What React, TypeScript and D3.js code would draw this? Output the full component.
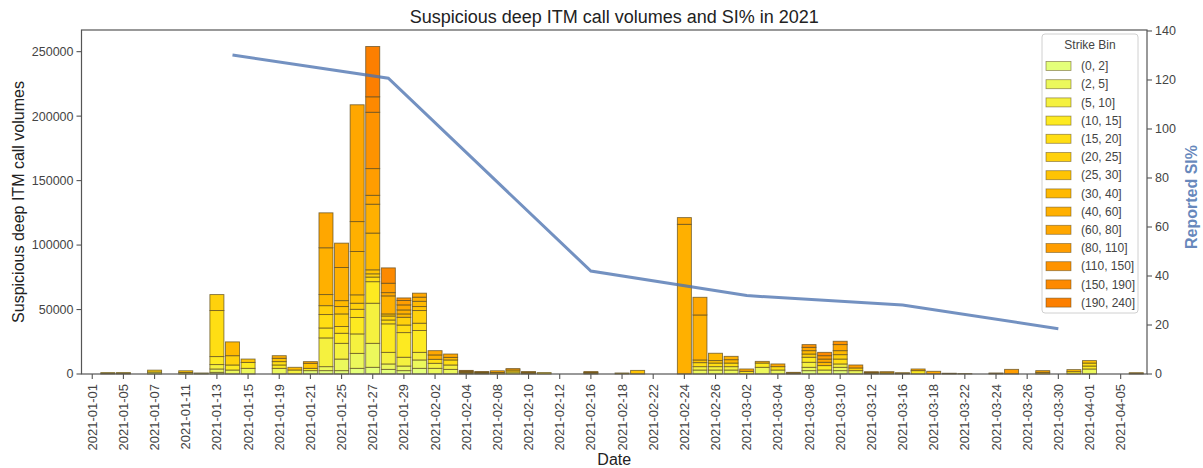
import * as d3 from "d3";

const dates = [
  "2021-01-01", "2021-01-04", "2021-01-05", "2021-01-06", "2021-01-07", "2021-01-08",
  "2021-01-11", "2021-01-12", "2021-01-13", "2021-01-14", "2021-01-15", "2021-01-18",
  "2021-01-19", "2021-01-20", "2021-01-21", "2021-01-22", "2021-01-25", "2021-01-26",
  "2021-01-27", "2021-01-28", "2021-01-29", "2021-02-01", "2021-02-02", "2021-02-03",
  "2021-02-04", "2021-02-05", "2021-02-08", "2021-02-09", "2021-02-10", "2021-02-11",
  "2021-02-12", "2021-02-15", "2021-02-16", "2021-02-17", "2021-02-18", "2021-02-19",
  "2021-02-22", "2021-02-23", "2021-02-24", "2021-02-25", "2021-02-26", "2021-03-01",
  "2021-03-02", "2021-03-03", "2021-03-04", "2021-03-05", "2021-03-08", "2021-03-09",
  "2021-03-10", "2021-03-11", "2021-03-12", "2021-03-15", "2021-03-16", "2021-03-17",
  "2021-03-18", "2021-03-19", "2021-03-22", "2021-03-23", "2021-03-24", "2021-03-25",
  "2021-03-26", "2021-03-29", "2021-03-30", "2021-03-31", "2021-04-01", "2021-04-02",
  "2021-04-05", "2021-04-06",
];

const strikeBins = [
  "(0, 2]", "(2, 5]", "(5, 10]", "(10, 15]", "(15, 20]", "(20, 25]", "(25, 30]",
  "(30, 40]", "(40, 60]", "(60, 80]", "(80, 110]", "(110, 150]", "(150, 190]", "(190, 240]",
];

// one row per date, one column per strike bin
const volumes: number[][] = [
  [0, 0, 0, 0, 0, 0, 0, 0, 0, 0, 0, 0, 0, 0],
  [400, 0, 0, 0, 700, 0, 0, 0, 0, 0, 0, 0, 0, 0],
  [500, 0, 0, 0, 0, 600, 0, 0, 0, 0, 0, 0, 0, 0],
  [0, 0, 0, 0, 0, 0, 0, 0, 0, 0, 0, 0, 0, 0],
  [0, 1500, 0, 0, 0, 1500, 0, 0, 0, 0, 0, 0, 0, 0],
  [0, 0, 0, 0, 0, 0, 0, 0, 0, 0, 0, 0, 0, 0],
  [0, 0, 1200, 0, 0, 0, 1300, 0, 0, 0, 0, 0, 0, 0],
  [800, 0, 0, 0, 0, 0, 0, 0, 0, 0, 0, 0, 0, 0],
  [1300, 2600, 3400, 6200, 35700, 12400, 0, 0, 0, 0, 0, 0, 0, 0],
  [0, 3100, 0, 3900, 0, 7200, 0, 10700, 0, 0, 0, 0, 0, 0],
  [0, 4400, 0, 4600, 0, 0, 2600, 0, 0, 0, 0, 0, 0, 0],
  [0, 0, 0, 0, 0, 0, 0, 0, 0, 0, 0, 0, 0, 0],
  [0, 4400, 0, 2600, 2600, 0, 2600, 0, 2000, 0, 0, 0, 0, 0],
  [0, 0, 3100, 0, 0, 0, 0, 2100, 0, 0, 0, 0, 0, 0],
  [2600, 0, 0, 1800, 0, 0, 3900, 0, 0, 1300, 0, 0, 0, 0],
  [2600, 3100, 22300, 7700, 10400, 6900, 0, 8600, 36300, 27100, 0, 0, 0, 0],
  [2600, 9000, 12200, 7800, 5200, 9800, 5700, 4600, 25700, 18900, 0, 0, 0, 0],
  [4400, 11600, 15100, 12700, 6400, 4700, 6500, 33600, 23200, 90600, 0, 0, 0, 0],
  [5200, 18600, 31100, 16700, 3600, 2500, 3100, 28500, 22400, 6900, 20700, 43700, 12000, 39000],
  [3600, 4200, 9000, 22100, 3000, 3100, 1600, 0, 14000, 2500, 7300, 0, 11900, 0],
  [2600, 3600, 6800, 19100, 5900, 6000, 0, 2600, 3100, 3900, 3400, 2000, 0, 0],
  [4400, 6500, 5900, 16900, 5700, 9800, 3100, 4100, 3200, 3100, 0, 0, 0, 0],
  [0, 4400, 3900, 0, 3100, 0, 0, 0, 3400, 3300, 0, 0, 0, 0],
  [0, 3600, 3400, 0, 3900, 0, 0, 2000, 0, 2600, 0, 0, 0, 0],
  [0, 0, 0, 700, 0, 0, 700, 0, 0, 700, 0, 0, 700, 0],
  [0, 0, 500, 0, 0, 500, 0, 0, 500, 0, 0, 400, 0, 0],
  [0, 0, 0, 0, 0, 0, 1200, 0, 0, 1300, 0, 0, 0, 0],
  [0, 0, 1600, 0, 0, 1500, 0, 0, 0, 0, 1100, 0, 0, 0],
  [0, 0, 0, 700, 0, 0, 0, 600, 0, 0, 600, 0, 0, 0],
  [0, 0, 0, 0, 1100, 0, 0, 0, 0, 0, 0, 0, 0, 0],
  [0, 0, 0, 0, 0, 0, 0, 0, 0, 0, 0, 0, 0, 0],
  [0, 0, 0, 0, 0, 0, 0, 0, 0, 0, 0, 0, 0, 0],
  [0, 0, 600, 0, 0, 0, 600, 0, 0, 0, 700, 0, 0, 0],
  [0, 0, 0, 0, 0, 0, 0, 0, 0, 0, 0, 0, 0, 0],
  [0, 0, 0, 0, 0, 800, 0, 0, 0, 0, 0, 0, 0, 0],
  [0, 0, 0, 0, 0, 0, 2800, 0, 0, 0, 0, 0, 0, 0],
  [0, 0, 0, 0, 0, 0, 0, 0, 0, 0, 0, 0, 0, 0],
  [0, 0, 0, 0, 0, 0, 0, 0, 0, 0, 0, 0, 0, 0],
  [0, 0, 0, 0, 0, 0, 0, 0, 116100, 5200, 0, 0, 0, 0],
  [0, 3100, 2600, 0, 3100, 0, 2100, 0, 34900, 13700, 0, 0, 0, 0],
  [0, 3100, 2600, 0, 2800, 0, 1900, 5700, 0, 0, 0, 0, 0, 0],
  [0, 3100, 2600, 0, 2800, 0, 0, 2600, 2600, 0, 0, 0, 0, 0],
  [0, 0, 0, 2100, 0, 0, 0, 0, 0, 1800, 0, 0, 0, 0],
  [0, 5200, 0, 3300, 0, 0, 0, 0, 1300, 0, 0, 0, 0, 0],
  [0, 3100, 0, 0, 2600, 0, 0, 0, 0, 2100, 0, 0, 0, 0],
  [0, 0, 0, 0, 0, 600, 0, 0, 0, 700, 0, 0, 0, 0],
  [2600, 2600, 3900, 3900, 0, 2500, 0, 2600, 0, 2600, 0, 2100, 0, 0],
  [0, 3100, 0, 3400, 0, 0, 0, 2600, 0, 2500, 2600, 0, 2600, 0],
  [2600, 2600, 2600, 0, 3800, 3400, 0, 3100, 0, 4700, 0, 2600, 0, 0],
  [0, 2600, 0, 0, 0, 2100, 0, 0, 0, 0, 2300, 0, 0, 0],
  [0, 0, 0, 600, 0, 0, 0, 0, 600, 0, 0, 600, 0, 0],
  [0, 0, 0, 0, 900, 0, 0, 0, 0, 900, 0, 0, 0, 0],
  [0, 0, 500, 0, 0, 0, 0, 0, 500, 0, 0, 0, 0, 0],
  [0, 0, 0, 2600, 0, 0, 0, 0, 0, 1300, 0, 0, 0, 0],
  [0, 0, 0, 0, 0, 0, 0, 0, 0, 2100, 0, 0, 0, 0],
  [0, 0, 0, 300, 0, 0, 0, 0, 300, 0, 0, 0, 0, 0],
  [0, 0, 0, 0, 0, 0, 300, 0, 0, 0, 0, 0, 0, 0],
  [0, 0, 0, 0, 0, 0, 0, 0, 0, 0, 0, 0, 0, 0],
  [0, 0, 0, 0, 400, 0, 0, 0, 0, 400, 0, 0, 0, 0],
  [0, 0, 0, 0, 0, 0, 0, 0, 0, 0, 3600, 0, 0, 0],
  [0, 0, 0, 0, 0, 0, 0, 0, 0, 0, 0, 0, 0, 0],
  [0, 0, 0, 0, 0, 0, 1300, 0, 0, 1300, 0, 0, 0, 0],
  [0, 0, 0, 0, 0, 0, 0, 0, 0, 0, 0, 0, 0, 0],
  [0, 0, 0, 1800, 0, 0, 0, 1600, 0, 0, 0, 0, 0, 0],
  [0, 3900, 0, 2300, 2300, 0, 1900, 0, 0, 0, 0, 0, 0, 0],
  [0, 0, 0, 0, 0, 0, 0, 0, 0, 0, 0, 0, 0, 0],
  [0, 0, 0, 0, 0, 0, 0, 0, 0, 0, 0, 0, 0, 0],
  [0, 0, 0, 0, 500, 0, 0, 0, 0, 500, 0, 0, 0, 0],
];

const siDates = ["2021-01-14", "2021-01-28", "2021-02-16", "2021-03-02", "2021-03-16", "2021-03-30"];
const siValues = [130.2, 120.7, 42, 32, 28.2, 18.5];

const volumeTicks = [0, 50000, 100000, 150000, 200000, 250000];
const siTicks = [0, 20, 40, 60, 80, 100, 120, 140];

const W = 1203;
const H = 468;
const left = 81.5;
const right = 1147;
const top = 30;
const bottom = 374;
const font = "'Liberation Sans', Arial, sans-serif";
const textColor = "#444";

// matplotlib "Wistia"
const wistia = d3
  .scaleLinear<string>()
  .domain([0, 0.25, 0.5, 0.75, 1])
  .range(["#e4ff7a", "#ffe81a", "#ffbd00", "#ffa000", "#fc7f00"]);

export default function App() {
  const x = d3.scaleBand().domain(dates).range([left, right]).paddingInner(0.1).paddingOuter(0.24);
  const y = d3.scaleLinear().domain([0, 266800]).range([bottom, top]);
  const ySI = d3.scaleLinear().domain([0, 140.4]).range([bottom, top]);
  const color = (i: number) => wistia(i / (strikeBins.length - 1));

  const keys = strikeBins.map((_, i) => i);
  const series = d3
    .stack<number[], number>()
    .keys(keys)
    .value((d, k) => d[k])(volumes);

  const bw = x.bandwidth();
  const line = d3
    .line<number>()
    .x((_, i) => (x(siDates[i]) as number) + bw / 2)
    .y((d) => ySI(d));

  const tickDates = dates.filter((_, i) => i % 2 === 0);

  const legX = 1042;
  const legY = 34;

  return (
    <svg
      width={W}
      height={H}
      style={{ position: "absolute", left: 0, top: 0, background: "#fff" }}
      fontFamily={font}
    >
      <text x={(left + right) / 2} y={23} textAnchor="middle" fontSize={18} fill="#222">
        Suspicious deep ITM call volumes and SI% in 2021
      </text>

      {series.map((s, bi) => (
        <g key={bi} fill={color(bi)}>
          {s.map((d, di) =>
            d[1] - d[0] > 0 ? (
              <rect
                key={di}
                x={x(dates[di])}
                y={y(d[1])}
                width={bw}
                height={y(d[0]) - y(d[1])}
                stroke="#5a4a20"
                strokeOpacity={0.75}
                strokeWidth={0.9}
              />
            ) : null
          )}
        </g>
      ))}

      <path d={line(siValues) || ""} fill="none" stroke="#4c72b0" strokeOpacity={0.78} strokeWidth={3} />

      <rect x={left} y={top} width={right - left} height={bottom - top} fill="none" stroke="#555" strokeWidth={1.2} />

      {volumeTicks.map((t) => (
        <g key={t}>
          <line x1={left - 5} x2={left} y1={y(t)} y2={y(t)} stroke="#555" strokeWidth={1.1} />
          <text x={left - 8} y={y(t)} dy="0.35em" textAnchor="end" fontSize={12.5} fill={textColor}>
            {t}
          </text>
        </g>
      ))}

      {siTicks.map((t) => (
        <g key={t}>
          <line x1={right} x2={right + 5} y1={ySI(t)} y2={ySI(t)} stroke="#555" strokeWidth={1.1} />
          <text x={right + 8} y={ySI(t)} dy="0.35em" fontSize={12.5} fill={textColor}>
            {t}
          </text>
        </g>
      ))}

      {tickDates.map((d) => {
        const cx = (x(d) as number) + bw / 2;
        return (
          <g key={d}>
            <line x1={cx} x2={cx} y1={bottom} y2={bottom + 5} stroke="#555" strokeWidth={1.1} />
            <text
              transform={`translate(${cx},${bottom + 10}) rotate(-90)`}
              dy="0.35em"
              textAnchor="end"
              fontSize={13}
              fill={textColor}
            >
              {d}
            </text>
          </g>
        );
      })}

      <text
        transform={`translate(18,${(top + bottom) / 2}) rotate(-90)`}
        textAnchor="middle"
        dy="0.35em"
        fontSize={16}
        fill="#222"
      >
        Suspicious deep ITM call volumes
      </text>
      <text
        transform={`translate(1191,197) rotate(-90)`}
        textAnchor="middle"
        dy="0.35em"
        fontSize={16}
        fontWeight="bold"
        fill="#4c72b0"
        fillOpacity={0.85}
      >
        Reported SI%
      </text>
      <text x={(left + right) / 2} y={465} textAnchor="middle" fontSize={16} fill="#222">
        Date
      </text>

      <g>
        <rect x={legX} y={legY} width={96} height={279} rx={3} fill="#fff" fillOpacity={0.85} stroke="#d0d0d0" />
        <text x={legX + 48} y={legY + 15} textAnchor="middle" fontSize={12} fill={textColor}>
          Strike Bin
        </text>
        {strikeBins.map((b, i) => {
          const cy = legY + 32 + i * 18.2;
          return (
            <g key={b}>
              <rect x={legX + 4} y={cy - 4.5} width={25} height={9} fill={color(i)} stroke="#5a4a20" strokeOpacity={0.6} strokeWidth={0.8} />
              <text x={legX + 39} y={cy} dy="0.35em" fontSize={12} fill={textColor}>
                {b}
              </text>
            </g>
          );
        })}
      </g>
    </svg>
  );
}
